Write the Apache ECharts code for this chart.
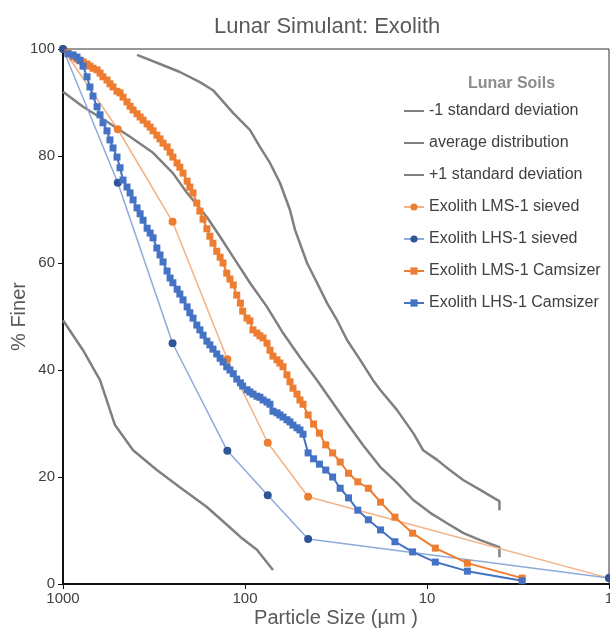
<!DOCTYPE html>
<html>
<head>
<meta charset="utf-8">
<script src="https://cdn.jsdelivr.net/npm/echarts@6/dist/echarts.min.js"></script>
<style>
  html, body { margin: 0; padding: 0; background: #fff; }
  #chart { width: 610px; height: 629px; }
</style>
</head>
<body>
<div id="chart"></div>
<script>
// lunar soil envelopes (size in µm, % finer)
var minusSdSize = [392, 293, 228, 177, 150, 116, 94, 82.8, 72.9, 64.3, 56.6, 53.1, 45.6, 40.2, 35.4, 31.2, 27.5, 23.3, 19.8, 18.1, 14.6, 11.9, 10.5, 8.8, 7.5, 6.3, 5.1, 4.3, 4.0, 4.0];
var minusSdPct = [98.9, 97.2, 95.7, 93.8, 92.3, 88.0, 84.9, 81.7, 78.7, 75.0, 69.9, 66.2, 60.0, 56.3, 52.5, 49.3, 45.6, 41.9, 38.1, 36.3, 32.5, 28.2, 25.0, 23.2, 21.3, 19.4, 17.6, 16.1, 15.5, 13.8];

var avgSize = [1000, 776, 573, 428, 320, 249, 208, 162, 137, 116, 94, 75.7, 61.8, 49.9, 40.2, 32.8, 27.5, 22.5, 18.1, 14.6, 11.9, 9.6, 7.8, 6.3, 5.1, 4.0, 4.0];
var avgPct = [92.0, 89.2, 86.4, 83.6, 80.6, 76.8, 73.1, 68.6, 64.9, 61.1, 56.3, 51.8, 46.9, 42.4, 38.1, 33.8, 30.1, 26.0, 21.9, 18.9, 15.7, 13.3, 11.4, 9.5, 8.2, 6.9, 5.0];

var plusSdSize = [1000, 776, 626, 518, 412, 305, 228, 162, 129, 106, 86, 70.2];
var plusSdPct = [49.3, 43.7, 38.1, 29.7, 25.0, 21.3, 18.1, 14.4, 11.4, 8.8, 6.4, 2.6];

// sieve results
var sieveSize = [1000, 500, 250, 125, 75, 45, 1];
var lmsSieved = [100, 85.0, 67.7, 42.0, 26.4, 16.3, 1.1];
var lhsSieved = [100, 75.0, 45.0, 24.9, 16.6, 8.4, 1.1];

// camsizer results
var camSize = [939, 881, 838, 807, 776, 738, 711, 684, 650, 626, 603, 573, 552, 531, 505, 486, 468, 445, 428, 412,
  392, 377, 363, 345, 332, 320, 305, 293, 282, 268, 258, 249, 236, 228, 219, 208, 201, 193, 184, 177,
  170, 162, 156, 150, 143, 137, 132, 126, 121, 116, 111, 106, 103, 97.5, 94, 90.4, 86, 82.8, 79.6, 75.7,
  72.9, 70.2, 66.7, 64.3, 61.8, 58.8, 56.6, 54.5, 51.8, 49.9, 48, 45, 42, 39, 36, 33, 30, 27, 24, 21,
  18, 15, 12, 9, 6, 3];
var lmsCam = [99.3, 98.5, 98.1, 97.8, 97.6, 97.2, 96.8, 96.4, 96.1, 95.5, 94.8, 94.2, 93.5, 92.9, 92.1, 91.8, 91.0, 90.1, 89.3, 88.6,
  87.9, 87.3, 86.7, 86.0, 85.4, 84.7, 83.9, 83.2, 82.4, 81.7, 80.7, 79.8, 78.7, 77.9, 76.8, 75.3, 74.2, 73.1, 71.2, 69.7,
  68.2, 66.4, 65.0, 63.7, 62.2, 61.1, 60.0, 58.1, 57.0, 55.9, 54.0, 52.5, 51.0, 49.7, 49.2, 47.5, 46.9, 46.4, 46.0, 45.0,
  43.7, 42.6, 41.9, 41.3, 40.6, 39.1, 37.8, 36.6, 35.5, 34.4, 33.6, 31.6, 29.9, 28.2, 26.0, 24.5, 22.8, 20.7, 19.1, 17.9,
  15.3, 12.5, 9.5, 6.7, 3.9, 1.1];
var lhsCam = [99.1, 98.9, 98.5, 97.9, 96.8, 94.8, 92.9, 91.2, 89.2, 87.7, 86.2, 84.7, 83.0, 81.5, 79.8, 77.8, 75.5, 74.2, 73.1, 71.8,
  70.3, 69.2, 68.0, 66.5, 65.6, 64.7, 62.8, 61.5, 60.2, 58.5, 57.2, 56.3, 55.1, 54.2, 53.1, 51.8, 50.7, 49.7, 48.4, 47.5,
  46.5, 45.4, 44.7, 43.9, 43.0, 42.2, 41.5, 40.6, 40.0, 39.3, 38.3, 37.6, 37.0, 36.3, 35.9, 35.5, 35.1, 34.9, 34.4, 34.0,
  33.6, 32.3, 32.0, 31.6, 31.2, 30.7, 30.3, 29.7, 29.2, 28.8, 28.0, 24.5, 23.4, 22.4, 21.3, 20.0, 17.9, 16.1, 13.8, 12.0,
  10.1, 7.9, 6.0, 4.1, 2.4, 0.6];

var legendNames = ['-1 standard deviation', 'average distribution', '+1 standard deviation',
    'Exolith LMS-1 sieved', 'Exolith LHS-1 sieved', 'Exolith LMS-1 Camsizer', 'Exolith LHS-1 Camsizer'];

function pairs(xs, ys) {
    return xs.map(function(x, i) { return [x, ys[i]]; });
}

var font = 'Liberation Sans, Arial, sans-serif';

function grayLine(name, xs, ys) {
    return {
        name: name,
        type: 'line',
        symbol: 'none',
        lineStyle: { color: '#808080', width: 2.5 },
        itemStyle: { color: '#808080' },
        data: pairs(xs, ys),
        z: 2
    };
}

var myChart = echarts.init(document.getElementById('chart'));

var option = {
    animation: false,
    textStyle: { fontFamily: font },
    title: [{
        text: 'Lunar Simulant: Exolith',
        left: 209,
        top: 11,
        textStyle: { fontSize: 22, fontWeight: 'normal', color: '#595959', fontFamily: font }
    }, {
        text: 'Lunar Soils',
        left: 463,
        top: 71,
        textStyle: { fontSize: 16, fontWeight: 'bold', color: '#8c8c8c', fontFamily: font }
    }],
    legend: {
        orient: 'vertical',
        left: 398,
        top: 97,
        itemWidth: 20,
        itemHeight: 9,
        itemGap: 14,
        textStyle: { fontSize: 16, color: '#404040', lineHeight: 18, fontFamily: font },
        data: legendNames.map(function(n, i) {
            // the soil envelopes have no markers in the key
            return i < 3 ? { name: n, itemStyle: { opacity: 0 } } : n;
        })
    },
    grid: {
        left: 63,
        right: 1,
        top: 49,
        bottom: 45,
        outerBoundsMode: 'none',
        containLabel: false,
        show: true,
        borderColor: '#333',
        borderWidth: 1
    },
    xAxis: {
        type: 'log',
        logBase: 10,
        min: 1,
        max: 1000,
        inverse: true,
        name: 'Particle Size (µm )',
        nameLocation: 'middle',
        nameGap: 24,
        nameMoveOverlap: false,
        nameTextStyle: { fontSize: 20, color: '#595959', fontFamily: font },
        axisLine: { lineStyle: { color: '#111', width: 2 } },
        axisTick: { show: true, length: 5, lineStyle: { color: '#111' } },
        minorTick: { show: false },
        splitLine: { show: false },
        axisLabel: {
            fontSize: 15, color: '#404040', margin: 7,
            formatter: function(v) { return String(Math.round(v)); }
        }
    },
    yAxis: {
        type: 'value',
        min: 0,
        max: 100,
        interval: 20,
        name: '% Finer',
        nameLocation: 'middle',
        nameGap: 34,
        nameMoveOverlap: false,
        nameTextStyle: { fontSize: 20, color: '#595959', fontFamily: font },
        axisLine: { show: true, lineStyle: { color: '#111', width: 2 } },
        axisTick: { show: true, length: 5, lineStyle: { color: '#111' } },
        splitLine: { show: false },
        axisLabel: { fontSize: 15, color: '#404040', margin: 8 }
    },
    series: [
        grayLine('-1 standard deviation', minusSdSize, minusSdPct),
        grayLine('average distribution', avgSize, avgPct),
        grayLine('+1 standard deviation', plusSdSize, plusSdPct),
        {
            name: 'Exolith LMS-1 sieved',
            type: 'line',
            symbol: 'circle',
            symbolSize: 8,
            clip: false,
            lineStyle: { color: '#f4b183', width: 1.5 },
            itemStyle: { color: '#ed7d31' },
            data: pairs(sieveSize, lmsSieved),
            z: 3
        },
        {
            name: 'Exolith LHS-1 sieved',
            type: 'line',
            symbol: 'circle',
            symbolSize: 8,
            clip: false,
            lineStyle: { color: '#8eaadb', width: 1.5 },
            itemStyle: { color: '#2f5597' },
            data: pairs(sieveSize, lhsSieved),
            z: 3
        },
        {
            name: 'Exolith LMS-1 Camsizer',
            type: 'line',
            symbol: 'rect',
            symbolSize: 7,
            lineStyle: { color: '#ed7d31', width: 2 },
            itemStyle: { color: '#ed7d31' },
            data: pairs(camSize, lmsCam),
            z: 4
        },
        {
            name: 'Exolith LHS-1 Camsizer',
            type: 'line',
            symbol: 'rect',
            symbolSize: 7,
            lineStyle: { color: '#4472c4', width: 2 },
            itemStyle: { color: '#4472c4' },
            data: pairs(camSize, lhsCam),
            z: 4
        }
    ]
};

myChart.setOption(option);
</script>
</body>
</html>
